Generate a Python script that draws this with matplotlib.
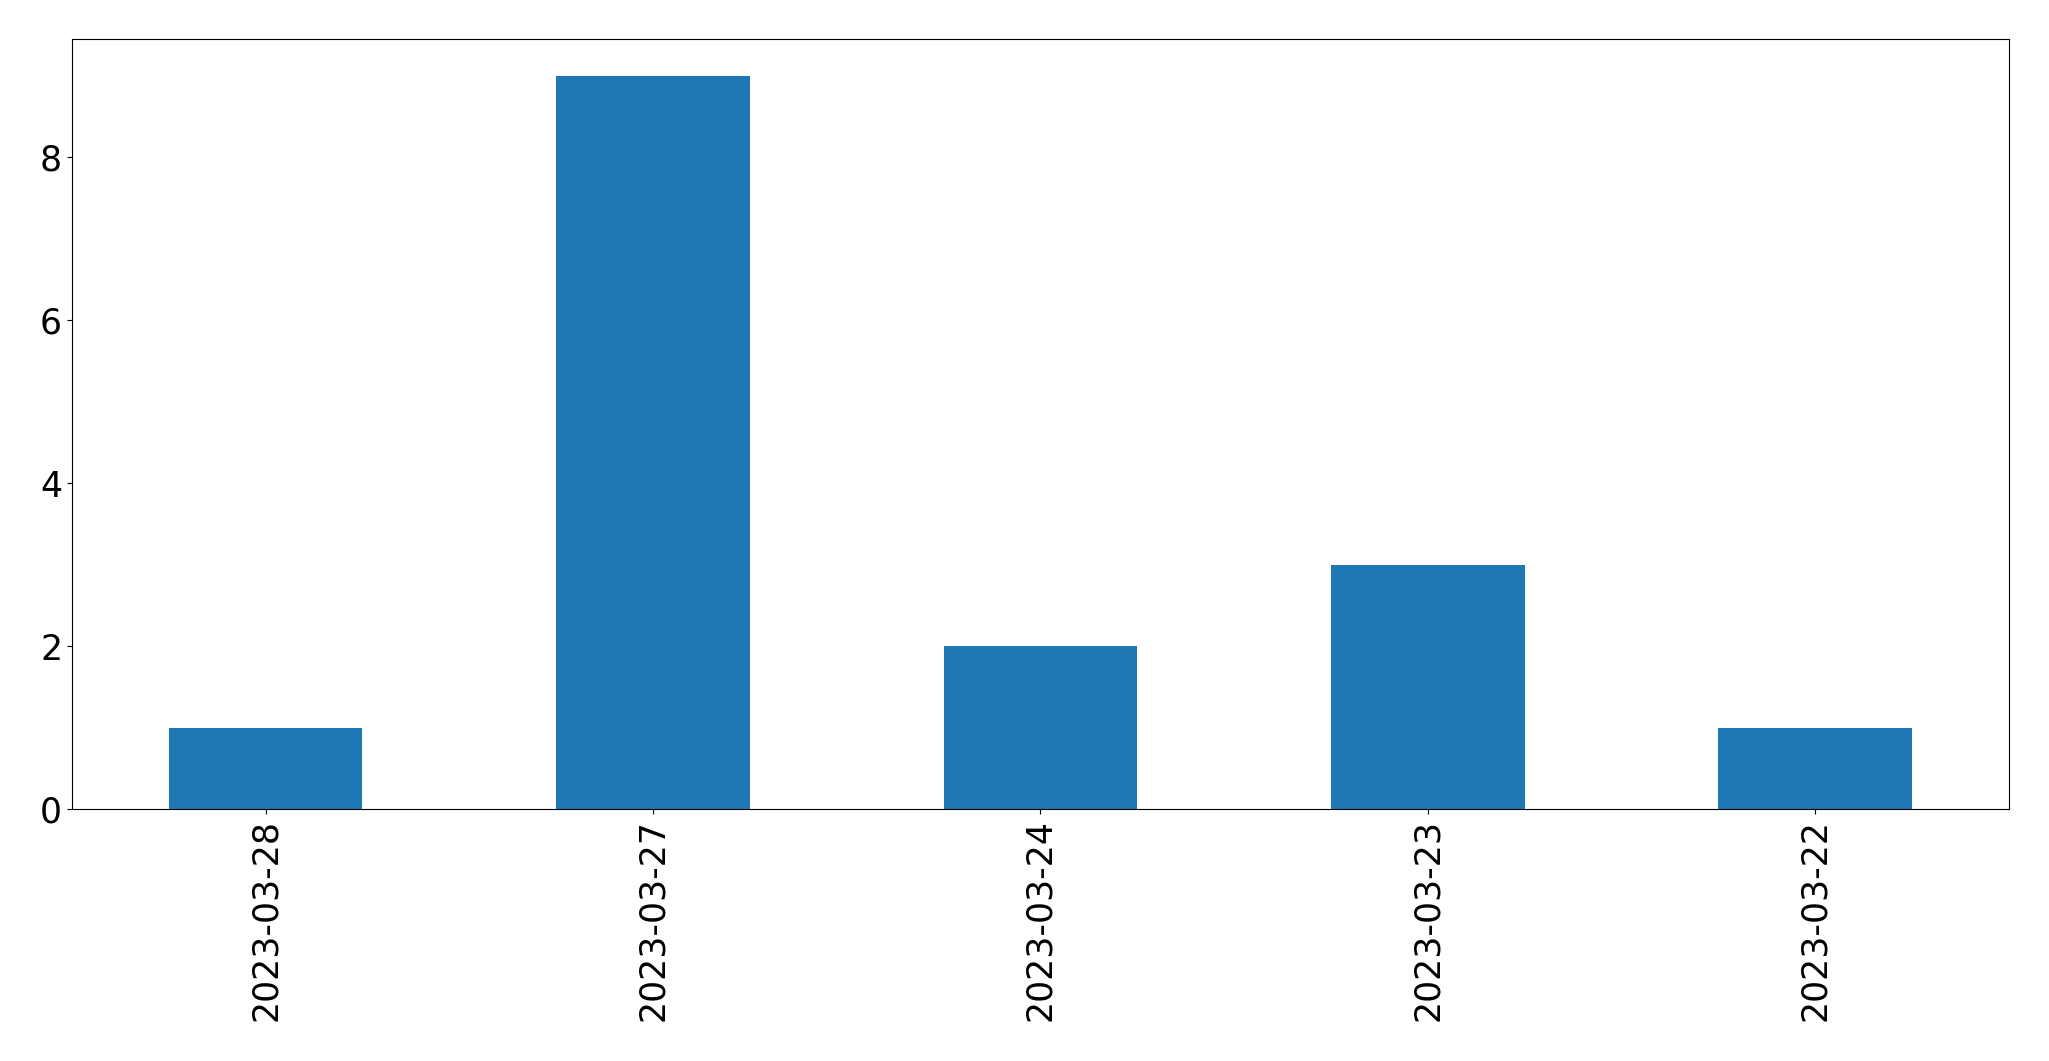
import pandas as pd
import matplotlib
matplotlib.use("Agg")
import matplotlib.pyplot as plt

# Contagem por data
dates = ["2023-03-28", "2023-03-27", "2023-03-24", "2023-03-23", "2023-03-22"]
counts = [1, 9, 2, 3, 1]

s = pd.Series(counts, index=dates)

fig = plt.figure(figsize=(20.49, 10.61), dpi=100)
ax = fig.add_subplot(1, 1, 1)
s.plot(kind="bar", ax=ax, color="#1f77b4", fontsize=25)
fig.subplots_adjust(left=0.0351, right=0.9805, top=0.9632, bottom=0.2375)
fig.savefig("out.png", dpi=100)
